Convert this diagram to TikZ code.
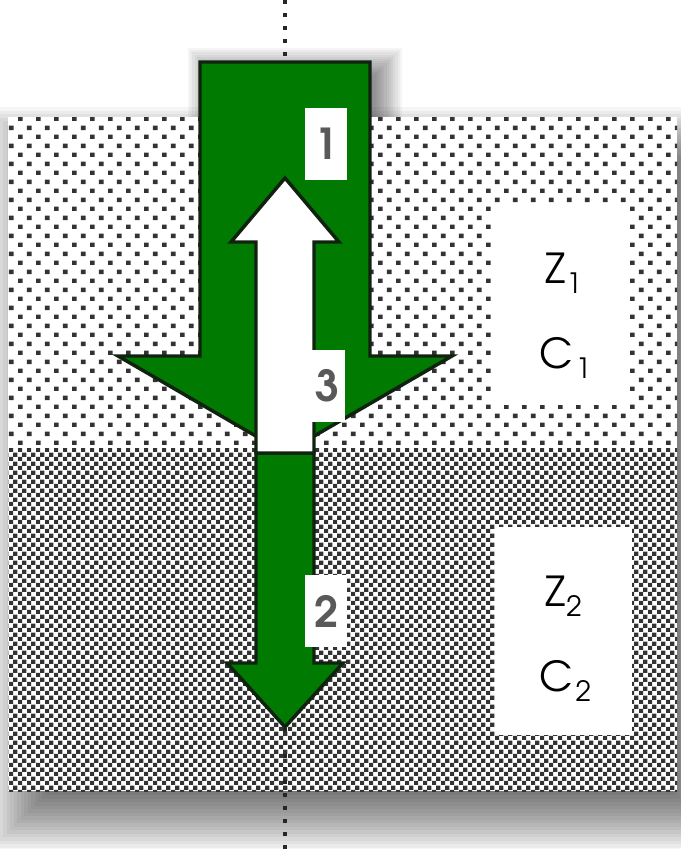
\documentclass[tikz,border=0pt]{standalone}
\usepackage{fontspec}
\setmainfont{texgyreadventor}[Extension=.otf, UprightFont=*-regular, BoldFont=*-bold, ItalicFont=*-italic, BoldItalicFont=*-bolditalic]
\usetikzlibrary{patterns}
\definecolor{agreen}{RGB}{0,122,0}
\definecolor{aedge}{RGB}{16,34,16}
\definecolor{patgray}{RGB}{51,51,51}
\definecolor{numgray}{RGB}{89,89,89}
\pgfdeclarepatternformonly{dotsA}{\pgfpointorigin}{\pgfpoint{13.8pt}{13.8pt}}{\pgfpoint{13.8pt}{13.8pt}}{%
 \pgfpathrectangle{\pgfpoint{0pt}{0pt}}{\pgfpoint{3.6pt}{3.4pt}}%
 \pgfpathrectangle{\pgfpoint{6.9pt}{6.9pt}}{\pgfpoint{3.6pt}{3.4pt}}%
 \pgfusepath{fill}}
\pgfdeclarepatternformonly{checkB}{\pgfpointorigin}{\pgfpoint{6.9pt}{6.9pt}}{\pgfpoint{6.9pt}{6.9pt}}{%
 \pgfpathrectangle{\pgfpoint{0pt}{0pt}}{\pgfpoint{3.45pt}{3.45pt}}%
 \pgfpathrectangle{\pgfpoint{3.45pt}{3.45pt}}{\pgfpoint{3.45pt}{3.45pt}}%
 \pgfusepath{fill}}
\newcommand\softshadow[5]{%
 \foreach \k in {0,...,19}{%
  \fill[black,opacity=0.04] ({#1-#5+\k*#5/10},{#2-#5+\k*#5/10}) rectangle ({#3+#5-\k*#5/10},{#4+#5-\k*#5/10});}}
\begin{document}
\begin{tikzpicture}[x=0.75pt,y=-0.75pt,
  arrowshape/.style={fill=agreen, draw=aedge, line width=2.6pt, line join=miter},
  numbox/.style={fill=white, inner sep=0pt, minimum height=54pt, text=numgray, font=\fontsize{32}{32}\selectfont\bfseries},
  zbox/.style={fill=white, inner sep=0pt},
  zlabel/.style={inner sep=0pt, anchor=base west, font=\fontsize{31}{31}\selectfont},
  axis/.style={black!85, line width=2.4pt, dash pattern=on 3pt off 6.75pt}]
\useasboundingbox (0,0) rectangle (681,849);
\fill[white] (0,0) rectangle (681,849);
% shadows
\softshadow{24}{142}{697}{816}{35}
\softshadow{210}{70}{380}{300}{22}
% regions
\fill[white] (8,117) rectangle (677,448);
\fill[pattern=dotsA, pattern color=patgray] (8,117) rectangle (677,448);
\fill[white] (8,448) rectangle (677,791);
\fill[pattern=checkB, pattern color=patgray] (8,448) rectangle (677,791);
% axis
\coordinate (axtop) at (285,0);
\coordinate (axbot) at (285,849);
\draw[axis] (axtop) -- (axbot);
% info boxes
\node[zbox, minimum width=101.25pt, minimum height=150pt] (zc1) at (560.5,305) {};
\node[zbox, minimum width=102.75pt, minimum height=156pt] (zc2) at (563.5,631) {};
\node[zlabel] (z1) at (545,283) {Z\kern1pt\raisebox{-7.5pt}{\fontsize{21}{21}\selectfont 1}};
\node[zlabel] (c1) at (539,368) {C\kern2pt\raisebox{-8pt}{\fontsize{21}{21}\selectfont 1}};
\node[zlabel] (z2) at (545,606) {Z\kern1pt\raisebox{-8pt}{\fontsize{21}{21}\selectfont 2}};
\node[zlabel] (c2) at (539,691) {C\kern2pt\raisebox{-8pt}{\fontsize{21}{21}\selectfont 2}};
% arrows
\draw[arrowshape] (256,453) -- (314,453) -- (314,663) -- (343,663) -- (285,727) -- (227,663) -- (256,663) -- cycle;
\draw[arrowshape] (200,62) -- (370,62) -- (370,356) -- (452,356) -- (285,453) -- (118,356) -- (200,356) -- cycle;
\draw[arrowshape, fill=white] (256,453) -- (256,242) -- (231,242) -- (285,178) -- (339,242) -- (314,242) -- (314,453) -- cycle;
% number labels
\node[numbox, minimum width=31.5pt] (n1) at (326,144) {1};
\node[numbox, minimum width=26.25pt] (n3) at (327.5,386) {3};
\node[numbox, minimum width=31.5pt] (n2) at (326,611) {2};
\end{tikzpicture}
\end{document}
